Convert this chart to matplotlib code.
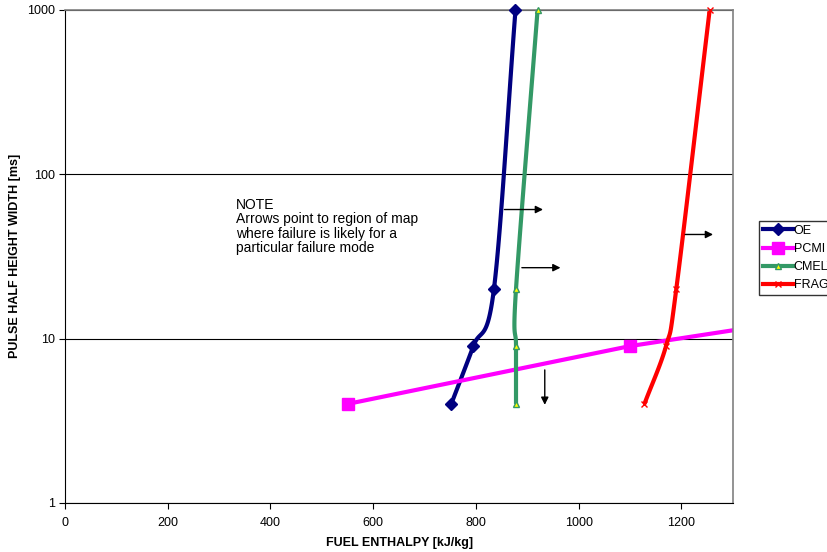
import matplotlib
matplotlib.use("Agg")
import matplotlib.pyplot as plt
import numpy as np

plt.rcParams["font.family"] = ["Liberation Sans", "DejaVu Sans"]

# data (enthalpy kJ/kg, pulse width ms)
oe_x = [752, 795, 835, 877]
oe_y = [4, 9, 20, 1000]
pcmi_x = [550, 1100, 1500]
pcmi_y = [4, 9, 14]
cmelt_x = [878, 878, 878, 920]
cmelt_y = [4, 9, 20, 1000]
frag_x = [1128, 1170, 1190, 1255]
frag_y = [4, 9, 20, 1000]

# arrows: (x0, y0, x1, y1)
arrows = [(850, 61, 936, 61), (884, 27, 970, 27), (934, 6.7, 934, 3.8), (1202, 43, 1267, 43)]


def smooth(xs, ys, n=40):
    # Catmull-Rom through points in (x, log y) space
    p = np.column_stack([np.asarray(xs, float) / 320.0, np.log10(ys)])
    p = np.vstack([2 * p[0] - p[1], p, 2 * p[-1] - p[-2]])
    out = []
    for i in range(1, len(p) - 2):
        p0, p1, p2, p3 = p[i - 1], p[i], p[i + 1], p[i + 2]
        t = np.linspace(0, 1, n)[:, None]
        c = 0.5 * ((2 * p1) + (-p0 + p2) * t + (2 * p0 - 5 * p1 + 4 * p2 - p3) * t ** 2
                   + (-p0 + 3 * p1 - 3 * p2 + p3) * t ** 3)
        out.append(c)
    c = np.vstack(out)
    return c[:, 0] * 320.0, 10 ** c[:, 1]


fig = plt.figure(figsize=(8.28, 5.52), dpi=100)
ax = fig.add_axes([0.0785, 0.089, 0.8065, 0.893])

series = [
    (oe_x, oe_y, "OE", "#000080", dict(marker="D", ms=6, mfc="#000080", mec="#000080")),
    (pcmi_x, pcmi_y, "PCMI", "#ff00ff", dict(marker="s", ms=8, mfc="#ff00ff", mec="#ff00ff")),
    (cmelt_x, cmelt_y, "CMELT", "#339966", dict(marker="^", ms=5, mfc="#ffff00", mec="#339966")),
    (frag_x, frag_y, "FRAG", "#ff0000", dict(marker="x", ms=5, mfc="#ff0000", mec="#ff0000")),
]
for xs, ys, label, color, mk in series:
    if label == "PCMI":
        sx, sy = np.asarray(xs, float), np.asarray(ys, float)
        mx, my = xs[:2], ys[:2]
    else:
        sx, sy = smooth(xs, ys)
        mx, my = xs, ys
    ax.plot(sx, sy, color=color, lw=3, solid_capstyle="butt", clip_on=True)
    ax.plot(mx, my, ls="none", clip_on=False, zorder=5, **mk)
    ax.plot([], [], color=color, lw=3, label=label, **mk)

ax.set_xlim(0, 1300)
ax.set_ylim(1, 1000)
ax.set_yscale("log")
ax.set_yticks([1, 10, 100, 1000])
ax.set_yticklabels(["1", "10", "100", "1000"])
ax.minorticks_off()
ax.set_xticks(range(0, 1201, 200))
ax.tick_params(direction="out", length=4, labelsize=9)
ax.tick_params(axis="x", pad=6)
ax.tick_params(axis="y", pad=3)
ax.grid(axis="y", color="black", lw=0.8)
for s in ["top", "right"]:
    ax.spines[s].set_color("#808080")
    ax.spines[s].set_linewidth(1.2)
for s in ["left", "bottom"]:
    ax.spines[s].set_color("black")

for x0, y0, x1, y1 in arrows:
    ax.annotate("", xy=(x1, y1), xytext=(x0, y0),
                arrowprops=dict(arrowstyle="-|>", color="black", lw=1, mutation_scale=11))

ax.text(333, 48, "NOTE\nArrows point to region of map\nwhere failure is likely for a\nparticular failure mode",
        fontsize=10, va="center", ha="left", linespacing=1.05)

fig.text(400 / 828, 1 - 543 / 552, "FUEL ENTHALPY [kJ/kg]", fontsize=9, fontweight="bold",
         ha="center", va="center")
fig.text(15 / 828, 1 - 256 / 552, "PULSE HALF HEIGHT WIDTH [ms]", fontsize=9, fontweight="bold",
         ha="center", va="center", rotation=90)

# legend sits partly outside the figure, as in the original
leg = ax.legend(loc="upper left", bbox_to_anchor=(1.039, 0.572), frameon=True, fancybox=False,
                edgecolor="black", fontsize=9, handlelength=2.4, borderpad=0.3,
                labelspacing=0.5, handletextpad=0.1, borderaxespad=0)
leg.get_frame().set_linewidth(1.0)

fig.savefig("out.png", dpi=100)
